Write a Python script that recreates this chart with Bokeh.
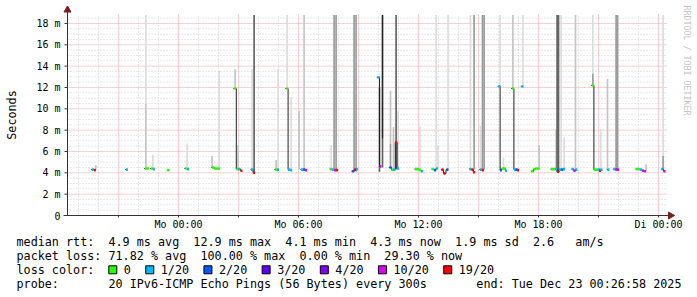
import math
from bokeh.plotting import figure
from bokeh.models import Range1d, ColumnDataSource
from bokeh.core.properties import value
from bokeh.embed import file_html
from bokeh.resources import INLINE

# ---------------- data ----------------
# time axis: hours relative to Monday 00:00 ; graph covers 30 h ending Tue 00:26:58
X_END = 24 + 27 / 60
X_START = X_END - 30
STEP_H = 300 / 3600          # 5 minute step
Y_MAX = 18.84                # ms (top of graph)

# median rtt per step (hours, ms, lost pings out of 20)
med_t = [-4.28, -4.18,
         -2.58,
         -1.63, -1.53,
         -1.33, -1.23,
         -0.50,
         0.38, 0.48,
         1.73, 1.83, 1.93, 2.03,
         2.83, 2.95, 3.05, 3.15,
         3.68, 3.78,
         4.88, 4.98,
         5.43, 5.53, 5.63,
         6.18, 6.28, 6.38,
         7.63, 7.73, 7.83, 7.93,
         8.73, 8.83, 8.93,
         10.00, 10.10,
         10.60, 10.70, 10.80, 10.88, 10.98,
         11.88, 11.98, 12.08, 12.18,
         12.73, 12.83, 12.93,
         13.20, 13.30, 13.45,
         14.60, 14.70, 14.78,
         15.12, 15.22,
         16.04, 16.12, 16.22, 16.30, 16.38,
         16.72, 16.82, 16.90, 16.98,
         17.20,
         17.70, 17.80, 17.90, 18.00,
         18.68, 18.78, 18.88, 18.98, 19.08, 19.18, 19.28,
         19.72, 19.80, 19.90,
         20.72, 20.82, 20.92, 21.02, 21.08, 21.15,
         21.50,
         21.80, 21.90, 21.98,
         22.93, 23.03, 23.13, 23.23, 23.33,
         24.20, 24.30]
med_v = [4.30, 4.25,
         4.30,
         4.40, 4.40,
         4.40, 4.35,
         4.25,
         4.40, 4.35,
         4.50, 4.40, 4.40, 4.40,
         11.90, 4.35, 4.35, 4.20,
         4.30, 4.00,
         4.30, 4.30,
         11.90, 4.30, 4.25,
         4.30, 4.30, 4.25,
         4.35, 4.30, 4.25, 4.25,
         4.15, 4.30, 4.35,
         12.95, 4.60,
         4.50, 4.30, 4.30, 6.85, 4.40,
         4.35, 4.35, 4.25, 4.15,
         4.35, 4.25, 4.40,
         4.30, 3.95, 4.30,
         4.35, 4.30, 4.05,
         4.30, 4.25,
         12.10, 4.25, 4.40, 4.40, 4.20,
         11.90, 4.30, 4.30, 4.25,
         12.10,
         4.15, 4.35, 4.40, 4.40,
         4.35, 4.35, 4.35, 4.10, 4.30, 4.30, 4.35,
         4.35, 4.20, 4.30,
         12.20, 4.30, 4.30, 4.30, 4.20, 4.30,
         4.30,
         4.35, 4.30, 4.30,
         4.35, 4.35, 4.30, 4.20, 4.15,
         4.35, 4.15]
med_loss = [1, 19,
            1,
            0, 0,
            0, 1,
            0,
            0, 1,
            0, 0, 0, 0,
            0, 0, 1, 19,
            1, 19,
            0, 1,
            0, 1, 1,
            1, 2, 10,
            0, 1, 10, 19,
            2, 19, 1,
            1, 10,
            2, 0, 1, 19, 1,
            0, 0, 0, 1,
            0, 2, 1,
            19, 19, 2,
            1, 19, 19,
            1, 19,
            1, 2, 0, 0, 1,
            0, 1, 2, 19,
            1,
            0, 0, 0, 0,
            0, 0, 1, 19, 1, 2, 1,
            1, 10, 1,
            0, 0, 0, 1, 19, 1,
            1,
            1, 10, 10,
            0, 0, 1, 10, 10,
            1, 10]

# smoke (spread of the 20 pings): hours, low ms, high ms, density level (1 sparse .. 5 dense)
smoke_t = [-4.13, -1.63, -1.63, -1.28, 0.43, 1.68, 2.03, 2.83, 2.98, 3.68,
           3.78, 4.88, 4.98, 5.43, 5.63, 6.03, 6.28, 7.63, 7.78, 7.88,
           8.78, 8.88, 10.05, 10.20, 10.20, 10.60, 10.60, 10.75, 10.88, 10.98,
           12.08, 12.88, 12.98, 13.48, 14.60, 14.78, 15.10, 15.20, 15.28, 16.08,
           16.25, 16.72, 17.22, 18.03, 18.88, 18.93, 19.00, 19.13, 19.28, 19.85,
           20.72, 20.72, 21.12, 21.45, 21.88, 21.95, 23.38, 24.23, 24.23]
smoke_lo = [4.3, 4.3, 10.5, 4.3, 4.4, 4.5, 4.4, 11.9, 4.4, 4.3,
            4.0, 4.3, 4.3, 11.9, 4.3, 4.3, 4.3, 4.3, 4.2, 4.2,
            4.1, 4.1, 4.1, 4.5, 7.2, 4.5, 6.7, 4.3, 4.3, 4.4,
            4.3, 4.3, 4.4, 4.3, 4.3, 4.3, 4.3, 4.3, 4.3, 12.1,
            4.3, 11.9, 12.1, 4.3, 4.3, 4.1, 4.1, 4.3, 4.3, 4.3,
            12.2, 13.3, 4.3, 4.3, 4.3, 4.3, 4.2, 4.3, 5.6]
smoke_hi = [4.7, 10.5, 18.8, 5.7, 6.75, 5.6, 13.6, 13.7, 6.6, 13.7,
            18.8, 5.2, 13.7, 18.8, 11.1, 9.8, 18.8, 6.6, 18.8, 18.8,
            18.8, 18.8, 12.0, 7.2, 18.8, 6.7, 11.7, 8.3, 18.8, 9.8,
            8.4, 18.8, 6.6, 18.8, 18.8, 18.8, 8.4, 18.8, 18.8, 18.8,
            5.4, 18.8, 18.8, 6.6, 8.1, 18.8, 18.8, 18.8, 7.3, 18.8,
            13.3, 18.8, 8.1, 12.8, 18.8, 18.8, 4.8, 5.6, 18.8]
smoke_level = [2, 2, 1, 1, 1, 2, 1, 2, 2, 1,
               4, 2, 1, 1, 1, 2, 2, 1, 3, 3,
               3, 3, 4, 4, 5, 3, 2, 2, 4, 1,
               1, 1, 1, 1, 1, 3, 1, 3, 3, 1,
               1, 2, 1, 2, 2, 4, 4, 1, 1, 2,
               3, 1, 1, 2, 3, 3, 2, 3, 1]

loss_levels = [0, 1, 2, 3, 4, 10, 19]
loss_labels = ["0", "1/20", "2/20", "3/20", "4/20", "10/20", "19/20"]
loss_colors = ["#26ff00", "#00b8ff", "#0059ff", "#5e00ff", "#7e00ff", "#dd00ff", "#ff0000"]

y_ticks = [0, 2, 4, 6, 8, 10, 12, 14, 16, 18]
y_tick_labels = ["0", "2 m", "4 m", "6 m", "8 m", "10 m", "12 m", "14 m", "16 m", "18 m"]
x_ticks = [0, 6, 12, 18, 24]
x_tick_labels = ["Mo 00:00", "Mo 06:00", "Mo 12:00", "Mo 18:00", "Di 00:00"]

rtt_avg, rtt_max, rtt_min, rtt_now, rtt_sd, rtt_am = 4.9, 12.9, 4.1, 4.3, 1.9, 2.6
loss_avg, loss_max, loss_min, loss_now = 71.82, 100.00, 0.00, 29.30
probe_text = "20 IPv6-ICMP Echo Pings (56 Bytes) every 300s"
end_text = "end: Tue Dec 23 00:26:58 2025"

# ---------------- layout / styles ----------------
MONO = "DejaVu Sans Mono"
AXIS_C = "#333333"
ARROW_C = "#7a1e1e"
MAJOR_C = "#eea0a0"
MINOR_C = "#cfcfcf"
shade_colors = {1: "#dcdcdc", 2: "#c4c4c4", 3: "#9a9a9a", 4: "#626262", 5: "#262626"}

W, H = 697, 297
PX_H = 20.0                 # pixels per hour
PX_MS = 201.0 / Y_MAX       # pixels per ms
ZERO_X, ZERO_Y = 67, 215    # canvas pixel of (X_START, 0 ms)


def hx(px):                 # canvas x pixel -> hours
    return X_START + (px - ZERO_X) / PX_H


def vy(py):                 # canvas y pixel -> ms
    return (ZERO_Y - py) / PX_MS


def nb(s):
    return s.replace(" ", "\u00a0")


def loss_color(n):
    idx = 0
    for i, lv in enumerate(loss_levels):
        if n >= lv:
            idx = i
    return loss_colors[idx]


p = figure(width=W, height=H, x_range=Range1d(hx(0), hx(W)), y_range=Range1d(vy(H), vy(0)),
           output_backend="svg", toolbar_location=None, min_border=0,
           x_axis_type=None, y_axis_type=None,
           background_fill_color="white", border_fill_color="white", outline_line_color=None)

px_h = 1 / PX_H
px_ms = 1 / PX_MS

# grid
major_x = [h for h in range(-5, 25) if h % 3 == 0]
minor_x = [h for h in range(-5, 25) if h % 3 != 0]
minor_y = [i * 0.5 for i in range(1, 38) if (i * 0.5) % 2 != 0]
major_y = [t for t in y_ticks if t > 0]
p.segment(x0=minor_x, y0=[0] * len(minor_x), x1=minor_x, y1=[Y_MAX] * len(minor_x),
          line_color=MINOR_C, line_dash="1 2", line_width=1)
p.segment(x0=[X_START] * len(minor_y), y0=minor_y, x1=[X_END] * len(minor_y), y1=minor_y,
          line_color=MINOR_C, line_dash="1 2", line_width=1)
p.segment(x0=major_x, y0=[0] * len(major_x), x1=major_x, y1=[Y_MAX] * len(major_x),
          line_color=MAJOR_C, line_dash="1 1", line_width=1)
p.segment(x0=[X_START] * len(major_y), y0=major_y, x1=[X_END] * len(major_y), y1=major_y,
          line_color=MAJOR_C, line_dash="1 1", line_width=1)

# smoke
smoke_src = ColumnDataSource(dict(
    left=[t - STEP_H / 2 for t in smoke_t],
    right=[t + STEP_H / 2 for t in smoke_t],
    bottom=smoke_lo, top=smoke_hi,
    color=[shade_colors[lv] for lv in smoke_level]))
p.quad(left="left", right="right", bottom="bottom", top="top", fill_color="color",
       line_color=None, source=smoke_src)

# median line (thin dark) per contiguous run
runs, cur = [], [0]
for i in range(1, len(med_t)):
    if med_t[i] - med_t[i - 1] <= 0.16:
        cur.append(i)
    else:
        runs.append(cur)
        cur = [i]
runs.append(cur)
for r in runs:
    xs = [med_t[r[0]] - STEP_H] + [med_t[i] for i in r]
    ys = [med_v[r[0]]] + [med_v[i] for i in r]
    p.step(xs, ys, mode="center", line_color="#202020", line_width=1)

# loss-coloured median marks
med_src = ColumnDataSource(dict(t=med_t, v=med_v, color=[loss_color(n) for n in med_loss]))
p.rect(x="t", y="v", width=0.1, height=2.6, height_units="screen", fill_color="color",
       line_color=None, source=med_src)

# axis lines, ticks and arrows
p.segment(x0=[X_START, X_START - 4 * px_h], y0=[0, 0],
          x1=[X_START, X_END + 3 * px_h], y1=[Y_MAX + 6 * px_ms, 0],
          line_color=AXIS_C, line_width=1)
p.segment(x0=[X_START - 3 * px_h] * len(y_ticks), y0=y_ticks, x1=[X_START] * len(y_ticks), y1=y_ticks,
          line_color=AXIS_C, line_width=1)
p.segment(x0=major_x, y0=[-2 * px_ms] * len(major_x), x1=major_x, y1=[0] * len(major_x),
          line_color=AXIS_C, line_width=1)
p.scatter(x=[X_START], y=[Y_MAX + 4.5 * px_ms], marker="triangle", size=7,
          fill_color=ARROW_C, line_color=ARROW_C)
p.scatter(x=[X_END + 3 * px_h], y=[0], marker="triangle", size=7, angle=-math.pi / 2,
          fill_color=ARROW_C, line_color=ARROW_C)

# tick labels, axis title, watermark
tick_kw = dict(text_font=value(MONO), text_font_size=value("10px"), text_color="black",
               text_baseline="middle")
p.text(x=x_ticks, y=[vy(224)] * len(x_ticks), text=[nb(s) for s in x_tick_labels],
       text_align="center", **tick_kw)
p.text(x=[hx(60)] * len(y_ticks), y=y_ticks, text=[nb(s) for s in y_tick_labels],
       text_align="right", **tick_kw)

leg_kw = dict(text_font=value(MONO), text_font_size=value("11.75px"), text_baseline="middle",
              text_color="black")
p.text(x=[hx(11)], y=[vy(114.5)], text=["Seconds"], angle=math.pi / 2, text_align="center", **leg_kw)
p.text(x=[hx(686.7)], y=[vy(5)], text=[nb("RRDTOOL / TOBI OETIKER")], angle=-math.pi / 2,
       text_align="left", text_baseline="middle", text_font=value(MONO),
       text_font_size=value("8.3px"), text_color="#c4c4c4")

# ---------------- legend ----------------
line_py = [241.3, 255.3, 269.3, 283.3]
lines = [
    f"median rtt:  {rtt_avg:.1f} ms avg  {rtt_max:.1f} ms max  {rtt_min:.1f} ms min  "
    f"{rtt_now:.1f} ms now  {rtt_sd:.1f} ms sd  {rtt_am:.1f}   am/s",
    f"packet loss: {loss_avg:.2f} % avg  {loss_max:.2f} % max  {loss_min:.2f} % min  {loss_now:.2f} % now",
    "loss color:",
    f"probe:       {probe_text}",
]
p.text(x=[hx(16)] * 4, y=[vy(v) for v in line_py], text=[nb(s) for s in lines],
       text_align="left", **leg_kw)
p.text(x=[hx(681)], y=[vy(line_py[3])], text=[nb(end_text)], text_align="right", **leg_kw)

CW = 7.07
sq_px, lab_px = [], []
xpos = 108.3
for lab in loss_labels:
    sq_px.append(xpos + 4)
    lab_px.append(xpos + 15)
    xpos += 15 + len(lab) * CW + 14.9
p.rect(x=[hx(v) for v in sq_px], y=[vy(line_py[2])] * len(sq_px), width=8, height=8,
       width_units="screen", height_units="screen", fill_color=loss_colors,
       line_color="black", line_width=1)
p.text(x=[hx(v) for v in lab_px], y=[vy(line_py[2])] * len(lab_px), text=loss_labels,
       text_align="left", **leg_kw)

open("out.html", "w").write(file_html(p, INLINE))
